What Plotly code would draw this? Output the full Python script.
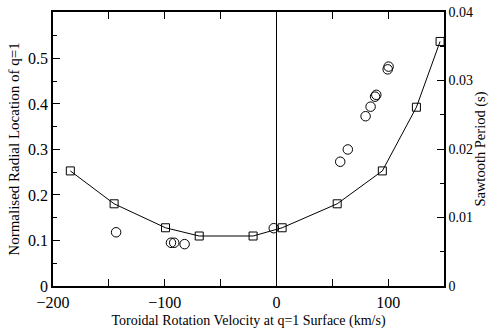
import plotly.graph_objects as go

# Squares (sawtooth period, right axis)
sq_x = [-184.5, -145.3, -99.3, -69.1, -20.9, 5.1, 54.4, 94.8, 125.3, 146.5]
sq_y = [0.0168, 0.0120, 0.0085, 0.0073, 0.0073, 0.0085, 0.0120, 0.0168, 0.0261, 0.0357]

# Circles (normalised radial location, left axis)
ci_x = [-143.5, -94.4, -91.5, -82.2, -2.4, 57.1, 63.9, 79.8, 84.3, 88.3, 89.4, 99.6, 100.4]
ci_y = [0.118, 0.095, 0.095, 0.092, 0.127, 0.273, 0.300, 0.373, 0.394, 0.416, 0.420, 0.476, 0.482]

x_ticks = [-200, -100, 0, 100]
y1_ticks = [0, 0.1, 0.2, 0.3, 0.4, 0.5]
y2_ticks = [0, 0.01, 0.02, 0.03, 0.04]

font = "'Liberation Serif', 'Times New Roman', Times, serif"

fig = go.Figure()
fig.add_trace(go.Scatter(
    x=sq_x, y=sq_y, yaxis="y2", mode="lines+markers",
    line=dict(color="black", width=1),
    marker=dict(symbol="square-open", size=8, color="black", line=dict(width=1)),
    showlegend=False))
fig.add_trace(go.Scatter(
    x=ci_x, y=ci_y, mode="markers",
    marker=dict(symbol="circle-open", size=9.5, color="black", line=dict(width=1)),
    showlegend=False))

minor_x = dict(dtick=50, tick0=0, ticks="inside", ticklen=4, tickcolor="black", showgrid=False)

fig.update_layout(
    width=489, height=329,
    margin=dict(l=53, r=45, t=12, b=43),
    paper_bgcolor="white", plot_bgcolor="white",
    font=dict(family=font, size=16, color="black"),
    xaxis=dict(
        range=[-200, 150], tickvals=x_ticks, ticks="inside", ticklen=7,
        tickcolor="black", showline=True, linecolor="black", linewidth=1.5,
        mirror="allticks", showgrid=False, zeroline=True, zerolinecolor="black",
        zerolinewidth=1, automargin=False, ticklabelstandoff=1,
        minor=minor_x,
        title=dict(text="Toroidal Rotation Velocity at q=1 Surface (km/s)", font=dict(size=14), standoff=7),
        tickfont=dict(size=16),
    ),
    yaxis=dict(
        range=[0, 0.602], tickvals=y1_ticks, ticktext=["0", "0.1", "0.2", "0.3", "0.4", "0.5"],
        ticks="inside", ticklen=7, tickcolor="black", automargin=False,
        showline=True, linecolor="black", linewidth=1.5, showgrid=False, zeroline=False,
        minor=dict(dtick=0.05, tick0=0, ticks="inside", ticklen=4, tickcolor="black", showgrid=False),
        title=dict(text="Normalised Radial Location of q=1", font=dict(size=15), standoff=5),
        tickfont=dict(size=16),
    ),
    yaxis2=dict(
        range=[0, 0.04], tickvals=y2_ticks, ticktext=["0", "0.01", "0.02", "0.03", "0.04"],
        overlaying="y", side="right", anchor="x", automargin=False,
        ticks="inside", ticklen=7, tickcolor="black",
        showline=True, linecolor="black", linewidth=1.5, showgrid=False, zeroline=False,
        minor=dict(dtick=0.005, tick0=0, ticks="inside", ticklen=4, tickcolor="black", showgrid=False),
        title=dict(text="Sawtooth Period (s)", font=dict(size=14.5), standoff=2),
        tickfont=dict(size=14),
    ),
)

fig.write_html("out.html")
